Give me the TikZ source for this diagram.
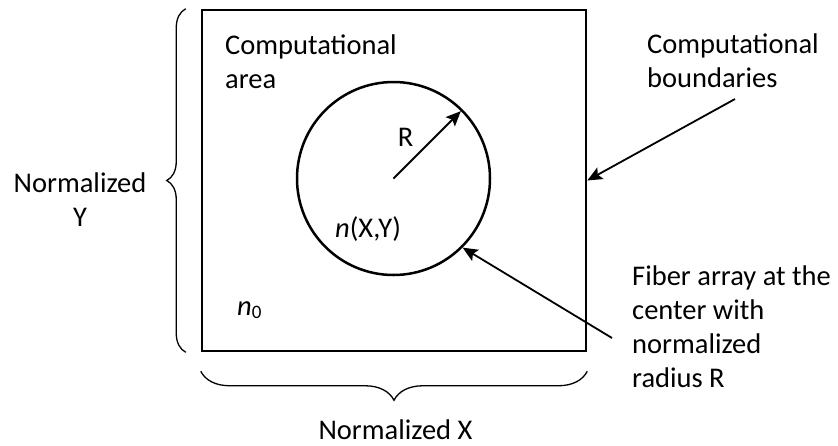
\documentclass[tikz,border=0pt]{standalone}
\usepackage{fontspec}
\setmainfont{Carlito}
\usetikzlibrary{arrows.meta, decorations.pathreplacing, positioning}

\begin{document}
\begin{tikzpicture}[x=1pt, y=-1pt,
  every node/.style={font=\fontsize{28.5}{34}\selectfont, inner sep=0pt},
  pointer/.style={-{Stealth[length=15pt, width=13pt, inset=3pt]}, line width=1.8pt},
  curly/.style={decorate, decoration={brace, amplitude=#1}, line width=1.3pt}]

\useasboundingbox (0,0) rectangle (838,445);

% Computational box and fiber
\node[draw, line width=2.5pt, minimum width=384pt, minimum height=341pt] (domain) at (394,180.5) {};
\node[draw, circle, line width=2.5pt, minimum size=193pt] (fiber) at (393.5,178.5) {};

% Braces for the normalized sizes
\draw[curly=19] ([xshift=-15pt]domain.south west) -- ([xshift=-15pt]domain.north west);
\draw[curly=29] ([yshift=-19pt]domain.south east) -- ([yshift=-19pt]domain.south west);

% Labels (base = last line)
\node[anchor=base west, align=left] (area) at (225,88) {Computational\\area};
\node[anchor=base west, align=left] (bndtxt) at (647,87) {Computational\\boundaries};
\node[anchor=base, align=center] (ylbl) at (80,226) {Normalized\\Y};
\node[anchor=base] (xlbl) at (395.5,439) {Normalized X};
\node[anchor=base] (rlbl) at (405.5,146) {R};
\node[anchor=base west] (nxy) at (335,237) {\textit{n}(X,Y)};
\node[anchor=base west] (nzero) at (237,315) {\textit{n}\raisebox{-3pt}{\fontsize{19}{19}\selectfont 0}};
\node[anchor=base west, align=left] (fibtxt) at (632,387) {Fiber array at the\\center with\\normalized\\radius R};

% Arrows
\coordinate (bndtail) at (735,99);
\coordinate (fibtail) at (612,338);
\draw[pointer, shorten >=2.5pt] (fiber.center) -- (fiber.45);
\draw[pointer] (bndtail) -- (domain.east);
\draw[pointer] (fibtail) -- (fiber.-45);

\end{tikzpicture}
\end{document}
